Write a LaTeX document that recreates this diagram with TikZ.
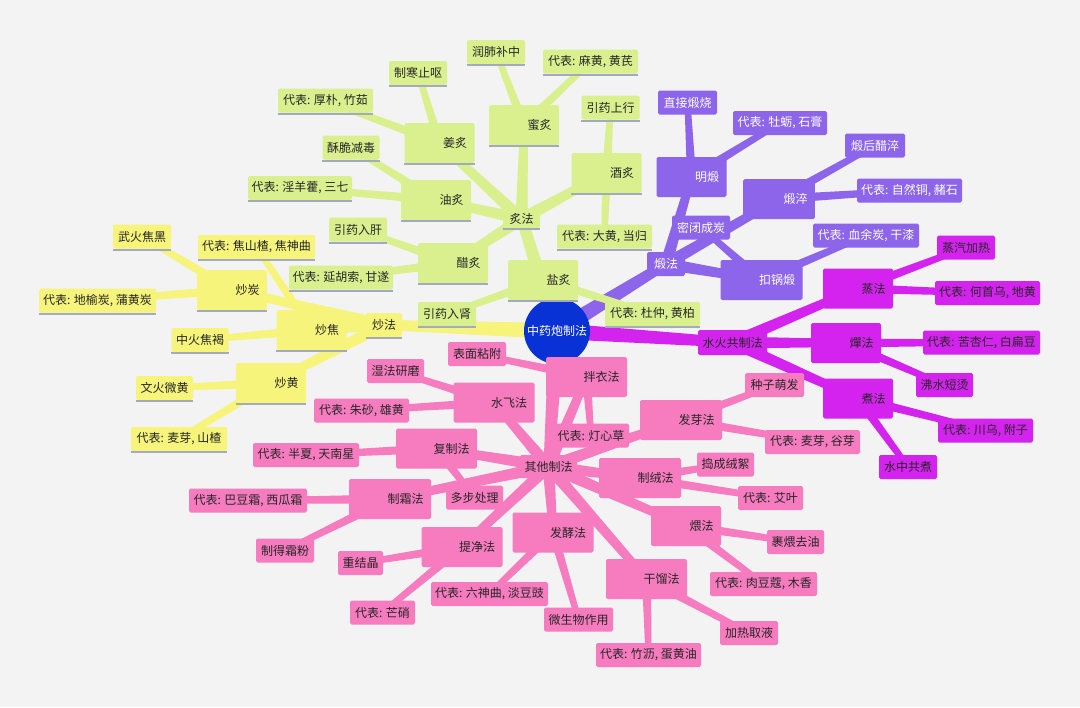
\documentclass[tikz,border=0pt]{standalone}
\usepackage{fontspec}
\setmainfont{Noto Sans CJK SC}
\usetikzlibrary{calc,backgrounds}
\definecolor{bg}{HTML}{F3F3F3}
\definecolor{cG}{HTML}{DAF08F}
\definecolor{cY}{HTML}{F6F47A}
\definecolor{cP}{HTML}{8C65EA}
\definecolor{cM}{HTML}{D423EF}
\definecolor{cK}{HTML}{F67BBF}
\definecolor{cB}{HTML}{0832D6}
\definecolor{cS}{HTML}{A4AABE}
\definecolor{cT}{HTML}{262626}
\tikzset{
  bx/.style={rounded corners=1.2pt, inner sep=0pt, font=\fontsize{9}{10}\selectfont, text=cT},
  wh/.style 2 args={minimum width=#1*0.75pt, minimum height=#2*0.75pt},
  shd/.style={append after command={([yshift=-0.9pt]\tikzlastnode.south west) edge[cS, line width=1.5pt] ([yshift=-0.9pt]\tikzlastnode.south east)}},
  big/.style={bx, minimum height=30pt, inner xsep=5.5pt, text width=#1, align=right},
  lG/.style={bx, fill=cG, shd, minimum height=18pt, minimum width=#1*0.75pt},
  lY/.style={bx, fill=cY, shd, minimum height=18pt, minimum width=#1*0.75pt},
  lP/.style={bx, fill=cP, text=white, minimum height=18pt, minimum width=#1*0.75pt},
  lM/.style={bx, fill=cM, minimum height=18pt, minimum width=#1*0.75pt},
  lK/.style={bx, fill=cK, minimum height=18pt, minimum width=#1*0.75pt},
  bG/.style={big=41.5pt, fill=cG, shd},
  bY/.style={big=41.5pt, fill=cY, shd},
  bP/.style={big=#1, fill=cP, text=white},
  bM/.style={big=41.5pt, fill=cM},
  bK/.style={big=#1, fill=cK},
}
% tapered branch: colour, from, to, half width at parent, half width at child
\newcommand\br[5]{%
  \fill[#1] let \p1=(#2.center), \p2=(#3.center), \n1={atan2(\y2-\y1,\x2-\x1)} in
   ($(\p1)+(\n1+90:#4)$) -- ($(\p2)+(\n1+90:#5)$) -- ($(\p2)+(\n1-90:#5)$) -- ($(\p1)+(\n1-90:#4)$) -- cycle;}
\newcommand\bA[3]{\br{#1}{#2}{#3}{6pt}{3.75pt}}
\newcommand\bB[3]{\br{#1}{#2}{#3}{4.5pt}{3pt}}
\newcommand\bC[3]{\br{#1}{#2}{#3}{3.4pt}{2.25pt}}
\begin{document}
\begin{tikzpicture}[x=0.75pt,y=-0.75pt]
\useasboundingbox (0,0) rectangle (1080,707);
% root
\node[circle, fill=cB, text=white, minimum size=49.5pt, inner sep=0pt, font=\fontsize{9}{10}\selectfont] (root) at (557,331) {中药炮制法};
% ---------- green: 炙法
\node[bx, fill=cG, shd, wh={37}{18}] (zhi) at (521.5,219) {炙法};
\node[bG] (mi) at (524,125) {蜜炙};
\node[bG] (jiang) at (439.5,143) {姜炙};
\node[bG] (you) at (436,200) {油炙};
\node[bG] (cu) at (453,263) {醋炙};
\node[bG] (yan) at (543,280) {盐炙};
\node[bG] (jiu) at (606.5,173) {酒炙};
\node[lG=58] (g1) at (496,52) {润肺补中};
\node[lG=95] (g2) at (590.5,61.5) {代表: 麻黄, 黄芪};
\node[lG=58] (g3) at (418,73) {制寒止呕};
\node[lG=95] (g4) at (325.5,100.5) {代表: 厚朴, 竹茹};
\node[lG=57] (g5) at (351,147.5) {酥脆减毒};
\node[lG=104] (g6) at (300,188) {代表: 淫羊藿, 三七};
\node[lG=58] (g7) at (358,229.5) {引药入肝};
\node[lG=104] (g8) at (341,277.5) {代表: 延胡索, 甘遂};
\node[lG=58] (g9) at (610.5,107.5) {引药上行};
\node[lG=95] (g10) at (604.5,236.5) {代表: 大黄, 当归};
\node[lG=58] (g11) at (447,314) {引药入肾};
\node[lG=95] (g12) at (652.5,314) {代表: 杜仲, 黄柏};
% ---------- yellow: 炒法
\node[bx, fill=cY, shd, wh={36}{24}] (chao) at (384,325) {炒法};
\node[bY] (ctan) at (232,290) {炒炭};
\node[bY] (cjiao) at (311.5,330) {炒焦};
\node[bY] (chuang) at (271,383) {炒黄};
\node[lY=58] (y1) at (142,236.5) {武火焦黑};
\node[lY=117] (y2) at (256.5,247) {代表: 焦山楂, 焦神曲};
\node[lY=117] (y3) at (97.5,300.5) {代表: 地榆炭, 蒲黄炭};
\node[lY=57] (y4) at (200,340) {中火焦褐};
\node[lY=57] (y5) at (164.5,388) {文火微黄};
\node[lY=96] (y6) at (179,439) {代表: 麦芽, 山楂};
% ---------- purple: 煅法
\node[bx, fill=cP, text=white, wh={38}{24}] (duan) at (666,264) {煅法};
\node[bP=41.5pt] (mduan) at (691.5,177) {明煅};
\node[bP=42.75pt] (dcui) at (779,199) {煅淬};
\node[bP=50.5pt] (kguo) at (761.5,280) {扣锅煅};
\node[lP=59] (p1) at (687.5,102.5) {直接煅烧};
\node[lP=94] (p2) at (780,123) {代表: 牡蛎, 石膏};
\node[lP=60] (p3) at (875,145.5) {煅后醋淬};
\node[lP=105] (p4) at (909.5,190.5) {代表: 自然铜, 赭石};
\node[lP=58] (p5) at (701,227.5) {密闭成炭};
\node[lP=106] (p6) at (866,235.5) {代表: 血余炭, 干漆};
% ---------- magenta: 水火共制法
\node[bx, fill=cM, wh={69}{25}] (shuihuo) at (732.5,342.5) {水火共制法};
\node[bM] (zheng) at (858,288.5) {蒸法};
\node[bM] (chan) at (846,343) {燀法};
\node[bM] (zhu) at (858,398.5) {煮法};
\node[lM=58] (m1) at (966,247.5) {蒸汽加热};
\node[lM=105] (m2) at (987.5,293) {代表: 何首乌, 地黄};
\node[lM=117] (m3) at (981.5,342.5) {代表: 苦杏仁, 白扁豆};
\node[lM=57] (m4) at (944.5,385) {沸水短烫};
\node[lM=95] (m5) at (985.5,430.5) {代表: 川乌, 附子};
\node[lM=58] (m6) at (908,467) {水中共煮};
% ---------- pink: 其他制法
\node[bx, fill=cK, wh={57}{23}] (qita) at (548.5,466.5) {其他制法};
\node[bK=49.75pt] (banyi) at (586.5,377) {拌衣法};
\node[bK=49.75pt] (shuifei) at (494,402.5) {水飞法};
\node[bK=49.75pt] (fuzhi) at (436.5,448.5) {复制法};
\node[bK=50.5pt] (zshuang) at (390,499) {制霜法};
\node[bK=49.75pt] (tijing) at (462,547) {提净法};
\node[bK=49.75pt] (fajiao) at (553,532.5) {发酵法};
\node[bK=49.75pt] (ganliu) at (646.5,579) {干馏法};
\node[bK=41.5pt] (wei) at (686,526) {煨法};
\node[bK=50.5pt] (zrong) at (640,478) {制绒法};
\node[bK=50.5pt] (faya) at (681,420) {发芽法};
\node[lK=58] (k1) at (477,354) {表面粘附};
\node[lK=76] (k2) at (591,435.5) {代表: 灯心草};
\node[lK=57] (k3) at (395.5,371) {湿法研磨};
\node[lK=95] (k4) at (361.5,410.5) {代表: 朱砂, 雄黄};
\node[lK=106] (k5) at (306,455) {代表: 半夏, 天南星};
\node[lK=57] (k6) at (474.5,497.5) {多步处理};
\node[lK=118] (k7) at (248,500.5) {代表: 巴豆霜, 西瓜霜};
\node[lK=58] (k8) at (285,550.5) {制得霜粉};
\node[lK=45] (k9) at (360.5,563) {重结晶};
\node[lK=65] (k10) at (382.5,612.5) {代表: 芒硝};
\node[lK=117] (k11) at (489.5,594) {代表: 六神曲, 淡豆豉};
\node[lK=69] (k12) at (578.5,619.5) {微生物作用};
\node[lK=105] (k13) at (648.5,655) {代表: 竹沥, 蛋黄油};
\node[lK=58] (k14) at (749,633) {加热取液};
\node[lK=57] (k15) at (795.5,542) {裹煨去油};
\node[lK=107] (k16) at (763.5,584) {代表: 肉豆蔻, 木香};
\node[lK=57] (k17) at (725.5,464.5) {捣成绒絮};
\node[lK=65] (k18) at (770.5,498) {代表: 艾叶};
\node[lK=59] (k19) at (774.5,385) {种子萌发};
\node[lK=95] (k20) at (812.5,442) {代表: 麦芽, 谷芽};
% ---------- connectors
\begin{pgfonlayer}{background}
\fill[bg] (0,0) rectangle (1080,707);
\bA{cG}{root}{zhi}
\bA{cY}{root}{chao}
\bA{cP}{root}{duan}
\bA{cM}{root}{shuihuo}
\bA{cK}{root}{qita}
% green
\bB{cG}{zhi}{mi} \bB{cG}{zhi}{jiang} \bB{cG}{zhi}{you}
\bB{cG}{zhi}{cu} \bB{cG}{zhi}{yan} \bB{cG}{zhi}{jiu}
\bC{cG}{mi}{g1} \bC{cG}{mi}{g2}
\bC{cG}{jiang}{g3} \bC{cG}{jiang}{g4}
\bC{cG}{you}{g5} \bC{cG}{you}{g6}
\bC{cG}{cu}{g7} \bC{cG}{cu}{g8}
\bC{cG}{jiu}{g9} \bC{cG}{jiu}{g10}
\bC{cG}{yan}{g11} \bC{cG}{yan}{g12}
% yellow
\bB{cY}{chao}{ctan} \bB{cY}{chao}{cjiao} \bB{cY}{chao}{chuang}
\bC{cY}{ctan}{y1} \bC{cY}{ctan}{y3}
\bC{cY}{cjiao}{y2} \bC{cY}{cjiao}{y4}
\bC{cY}{chuang}{y5} \bC{cY}{chuang}{y6}
% purple
\bB{cP}{duan}{mduan} \bB{cP}{duan}{dcui} \bB{cP}{duan}{kguo}
\bC{cP}{mduan}{p1} \bC{cP}{mduan}{p2}
\bC{cP}{dcui}{p3} \bC{cP}{dcui}{p4}
\bC{cP}{kguo}{p5} \bC{cP}{kguo}{p6}
% magenta
\bB{cM}{shuihuo}{zheng} \bB{cM}{shuihuo}{chan} \bB{cM}{shuihuo}{zhu}
\bC{cM}{zheng}{m1} \bC{cM}{zheng}{m2}
\bC{cM}{chan}{m3} \bC{cM}{chan}{m4}
\bC{cM}{zhu}{m5} \bC{cM}{zhu}{m6}
% pink
\bB{cK}{qita}{banyi} \bB{cK}{qita}{shuifei} \bB{cK}{qita}{fuzhi}
\bB{cK}{qita}{zshuang} \bB{cK}{qita}{tijing} \bB{cK}{qita}{fajiao}
\bB{cK}{qita}{ganliu} \bB{cK}{qita}{wei} \bB{cK}{qita}{zrong}
\bB{cK}{qita}{faya}
\bC{cK}{banyi}{k1} \bC{cK}{banyi}{k2}
\bC{cK}{shuifei}{k3} \bC{cK}{shuifei}{k4}
\bC{cK}{fuzhi}{k5} \bC{cK}{fuzhi}{k6}
\bC{cK}{zshuang}{k7} \bC{cK}{zshuang}{k8}
\bC{cK}{tijing}{k9} \bC{cK}{tijing}{k10}
\bC{cK}{fajiao}{k11} \bC{cK}{fajiao}{k12}
\bC{cK}{ganliu}{k13} \bC{cK}{ganliu}{k14}
\bC{cK}{wei}{k15} \bC{cK}{wei}{k16}
\bC{cK}{zrong}{k17} \bC{cK}{zrong}{k18}
\bC{cK}{faya}{k19} \bC{cK}{faya}{k20}
\end{pgfonlayer}
\end{tikzpicture}
\end{document}
